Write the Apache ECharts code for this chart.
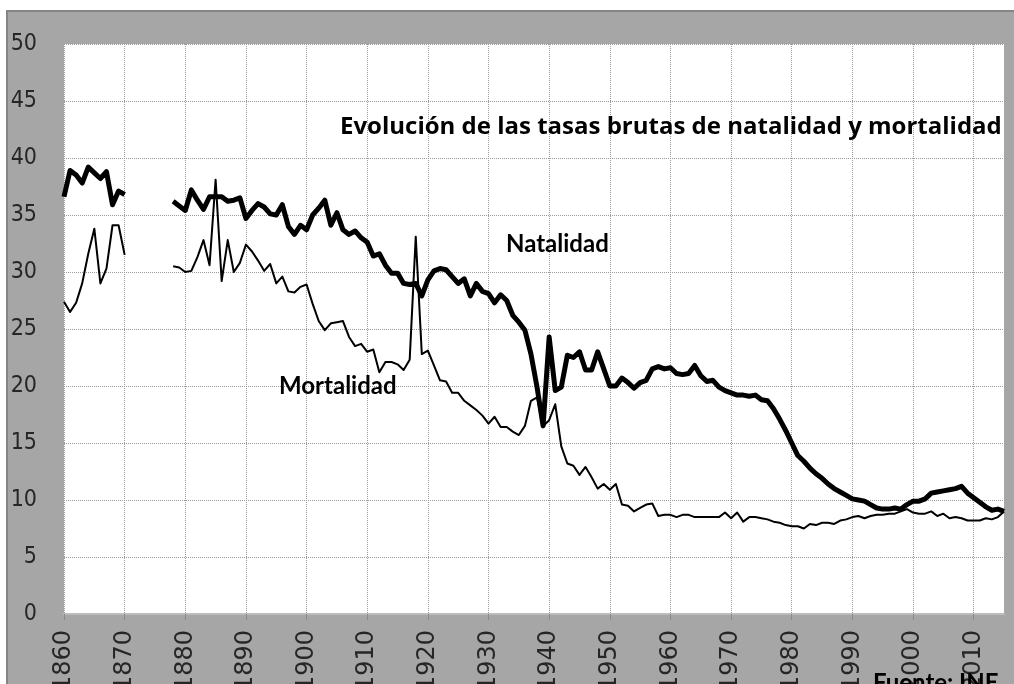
<!DOCTYPE html>
<html>
<head>
<meta charset="utf-8">
<script src="https://cdn.jsdelivr.net/npm/echarts@6/dist/echarts.min.js"></script>
<style>
  html, body { margin: 0; padding: 0; background: #ffffff; }
  .marco {
    position: absolute; left: 6px; top: 10px; right: 0; bottom: 0;
    background: #a6a6a6;
    border-top: 2px solid #858585;
    border-left: 2px solid #858585;
  }
  .echarts { position: absolute; left: 0; top: 0; width: 1014px; height: 684px; }
</style>
</head>
<body>
<div class="marco"></div>
<div class="echarts" id="grafico"></div>
<script>
// años 1860-2015 (sin datos 1871-1877)
const years = [];
for (let y = 1860; y <= 2015; y++) years.push(String(y));

const natalidad = [
  36.6, 38.9, 38.5, 37.8, 39.2, 38.7, 38.2, 38.8, 35.9, 37.1, 36.8,
  null, null, null, null, null, null, null,
  36.2, 35.8, 35.4, 37.2, 36.3, 35.5, 36.6, 36.6, 36.6, 36.2, 36.3, 36.5,
  34.7, 35.4, 36.0, 35.7, 35.1, 35.0, 35.9, 34.0, 33.3, 34.1,
  33.7, 35.0, 35.6, 36.3, 34.1, 35.2, 33.7, 33.3, 33.6, 33.0,
  32.6, 31.4, 31.6, 30.6, 29.9, 29.9, 29.0, 28.9, 29.0, 27.9,
  29.3, 30.1, 30.3, 30.2, 29.6, 29.0, 29.4, 27.9, 29.0, 28.3,
  28.1, 27.3, 28.0, 27.5, 26.2, 25.6, 24.9, 22.8, 19.9, 16.5,
  24.3, 19.6, 19.9, 22.7, 22.5, 23.0, 21.4, 21.4, 23.0, 21.5,
  20.0, 20.0, 20.7, 20.3, 19.8, 20.3, 20.5, 21.5, 21.7, 21.5,
  21.6, 21.1, 21.0, 21.1, 21.8, 20.9, 20.4, 20.5, 19.9, 19.6,
  19.4, 19.2, 19.2, 19.1, 19.2, 18.8, 18.7, 18.0, 17.1, 16.1,
  15.0, 13.9, 13.4, 12.8, 12.3, 11.9, 11.4, 11.0, 10.7, 10.4,
  10.1, 10.0, 9.9, 9.6, 9.3, 9.2, 9.2, 9.3, 9.2, 9.6,
  9.9, 9.9, 10.1, 10.6, 10.7, 10.8, 10.9, 11.0, 11.2, 10.6,
  10.2, 9.8, 9.4, 9.1, 9.2, 9.0
];

const mortalidad = [
  27.4, 26.5, 27.3, 29.0, 31.6, 33.8, 29.0, 30.3, 34.1, 34.1, 31.5,
  null, null, null, null, null, null, null,
  30.5, 30.4, 30.0, 30.1, 31.3, 32.8, 30.6, 38.1, 29.2, 32.8, 30.0, 30.8,
  32.4, 31.8, 31.0, 30.1, 30.7, 29.0, 29.6, 28.3, 28.2, 28.7,
  28.9, 27.2, 25.7, 24.9, 25.5, 25.6, 25.7, 24.3, 23.5, 23.7,
  23.0, 23.2, 21.2, 22.1, 22.1, 21.9, 21.4, 22.3, 33.1, 22.8,
  23.1, 21.8, 20.5, 20.4, 19.4, 19.4, 18.7, 18.3, 17.9, 17.4,
  16.7, 17.3, 16.4, 16.4, 16.0, 15.7, 16.5, 18.7, 19.0, 16.5,
  17.0, 18.4, 14.7, 13.2, 13.0, 12.2, 12.9, 12.0, 11.0, 11.4,
  10.9, 11.4, 9.6, 9.5, 9.0, 9.3, 9.6, 9.7, 8.6, 8.7,
  8.7, 8.5, 8.7, 8.7, 8.5, 8.5, 8.5, 8.5, 8.5, 8.9,
  8.4, 8.9, 8.1, 8.5, 8.5, 8.4, 8.3, 8.1, 8.0, 7.8,
  7.7, 7.7, 7.5, 7.9, 7.8, 8.0, 8.0, 7.9, 8.2, 8.3,
  8.5, 8.6, 8.4, 8.6, 8.7, 8.7, 8.8, 8.8, 9.0, 9.2,
  8.9, 8.8, 8.8, 9.0, 8.6, 8.8, 8.4, 8.5, 8.4, 8.2,
  8.2, 8.2, 8.4, 8.3, 8.5, 9.0
];

const titulo = 'Evolución de las tasas brutas de natalidad y mortalidad';
const fuente = 'Fuente: INE';

const cadaDecada = (idx, val) => Number(val) % 10 === 0;
const fuenteTexto = 'Lato, "Open Sans", sans-serif';

const option = {
  animation: false,
  backgroundColor: 'transparent',
  grid: {
    left: 64, top: 44, right: 10, bottom: 70,
    outerBoundsMode: 'none',
    containLabel: false,
    show: true, backgroundColor: '#ffffff', borderWidth: 0
  },
  xAxis: {
    type: 'category',
    data: years,
    boundaryGap: false,
    axisLine: { lineStyle: { color: '#bdbdbd', width: 2 } },
    axisTick: { interval: cadaDecada, length: 6, lineStyle: { color: '#8a8a8a' } },
    axisLabel: {
      interval: cadaDecada,
      rotate: 90,
      margin: 16,
      color: '#262626',
      fontSize: 24,
      fontFamily: '"DejaVu Sans", sans-serif'
    },
    splitLine: {
      show: true,
      interval: cadaDecada,
      lineStyle: { color: '#9a9a9a', type: 'dotted', width: 1 }
    }
  },
  yAxis: {
    type: 'value',
    min: 0,
    max: 50,
    interval: 5,
    axisLine: { show: false },
    axisTick: { show: false },
    axisLabel: {
      margin: 27,
      color: '#262626',
      fontSize: 23,
      fontFamily: '"DejaVu Sans Condensed", "DejaVu Sans", sans-serif'
    },
    splitLine: { lineStyle: { color: '#9a9a9a', type: 'dotted', width: 1 } }
  },
  series: [
    {
      name: 'Natalidad',
      type: 'line',
      data: natalidad,
      showSymbol: false,
      connectNulls: false,
      lineStyle: { color: '#000000', width: 5, join: 'round' },
      z: 3
    },
    {
      name: 'Mortalidad',
      type: 'line',
      data: mortalidad,
      showSymbol: false,
      connectNulls: false,
      lineStyle: { color: '#000000', width: 2, join: 'round' },
      z: 4
    }
  ],
  graphic: [
    {
      type: 'text', left: 340, top: 115, z: 10,
      style: { text: titulo, fill: '#000', font: 'bold 24px "Open Sans", sans-serif' }
    },
    {
      type: 'text', left: 506, top: 232, z: 10,
      style: { text: 'Natalidad', fill: '#000', font: 'bold 24px ' + fuenteTexto }
    },
    {
      type: 'text', left: 279, top: 374, z: 10,
      style: { text: 'Mortalidad', fill: '#000', font: 'bold 24px ' + fuenteTexto }
    },
    {
      type: 'text', left: 873, top: 671, z: 10,
      style: { text: fuente, fill: '#000', font: 'bold 24px ' + fuenteTexto }
    }
  ]
};

const myChart = echarts.init(document.getElementById('grafico'));
myChart.setOption(option);
</script>
</body>
</html>
